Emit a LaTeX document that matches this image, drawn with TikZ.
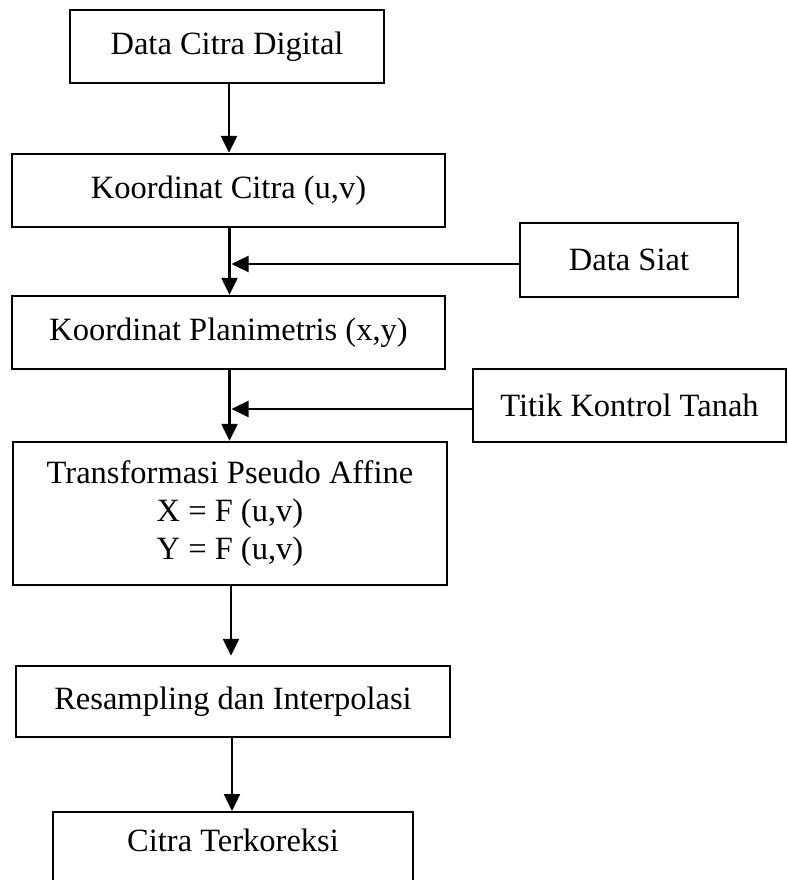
\documentclass[tikz,border=0pt]{standalone}
\usepackage{fontspec}
\setmainfont{Liberation Serif}
\usetikzlibrary{arrows.meta}

\begin{document}
\begin{tikzpicture}[x=1pt, y=-1pt, line width=2.4pt,
    kotak/.style={draw=black, inner sep=0pt, font=\fontsize{32.5}{38}\selectfont, align=center},
    panah/.style={-{Triangle[length=17pt, width=16pt]}}]
    % Rahmen.
    \useasboundingbox (0,0) rectangle (787,880);
    \clip (0,0) rectangle (787,880);

    % Kotak.
    \node[kotak, minimum width=314, minimum height=73] (data) at (227,46.5) {Data Citra Digital};
    \node[kotak, minimum width=433, minimum height=73] (kcitra) at (228.5,190.5) {Koordinat Citra (u,v)};
    \node[kotak, minimum width=218, minimum height=74] (siat) at (629,260) {Data Siat};
    \node[kotak, minimum width=433, minimum height=73] (kplan) at (228.5,332.5) {Koordinat Planimetris (x,y)};
    \node[kotak, minimum width=313, minimum height=73] (titik) at (629.5,405.5) {Titik Kontrol Tanah};
    \node[kotak, minimum width=434, minimum height=143] (trans) at (230,513.5)
        {Transformasi Pseudo Affine\\X = F (u,v)\\Y = F (u,v)};
    \node[kotak, minimum width=434, minimum height=71] (resamp) at (233,701.5) {Resampling dan Interpolasi};
    \node[kotak, anchor=north, minimum width=360, inner ysep=17pt, text depth=80pt] (citra) at (233,811) {Citra Terkoreksi};

    % Panah.
    \draw[panah] ([xshift=2pt]data.south) -- ([xshift=2pt]data.south |- kcitra.north);
    \draw[panah] ([xshift=1pt]kcitra.south) -- ([xshift=1pt]kcitra.south |- kplan.north);
    \draw[panah] ([yshift=-4pt]siat.west) -- ([yshift=-4pt, xshift=3pt]siat.west -| kcitra.south);
    \draw[panah] ([xshift=1pt]kplan.south) -- ([xshift=1pt]kplan.south |- trans.north);
    \draw[panah] ([yshift=-3.5pt]titik.west) -- ([yshift=-3.5pt, xshift=3pt]titik.west -| kplan.south);
    \draw[panah, shorten >=9pt] ([xshift=1pt]trans.south) -- ([xshift=1pt]trans.south |- resamp.north);
    \draw[panah] ([xshift=-1pt]resamp.south) -- ([xshift=-1pt]resamp.south |- citra.north);
\end{tikzpicture}
\end{document}
